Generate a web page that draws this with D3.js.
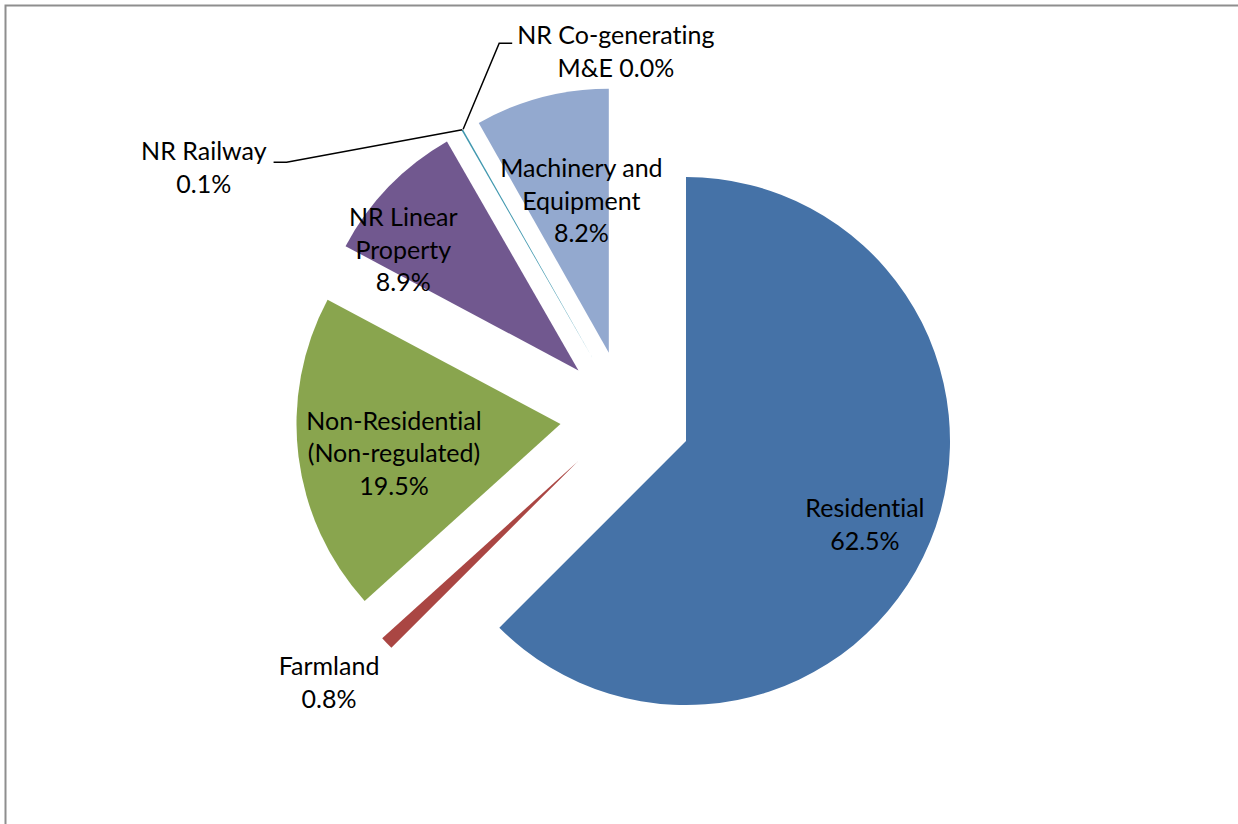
<!DOCTYPE html>
<html>
<head>
<meta charset="utf-8">
<script src="https://cdn.jsdelivr.net/npm/d3@7"></script>
<style>
  html, body { margin: 0; padding: 0; background: #fff; }
  svg text { font-family: Lato, "Open Sans", sans-serif; fill: #000; font-variant-ligatures: none; }
</style>
</head>
<body>
<svg id="chart" width="1238" height="824"></svg>
<script>
// data
const categories = [
  "Residential",
  "Farmland",
  "Non-Residential (Non-regulated)",
  "NR Linear Property",
  "NR Railway",
  "NR Co-generating M&E",
  "Machinery and Equipment"
];
const shares = [62.5, 0.8, 19.5, 8.9, 0.1, 0.0, 8.2];
const nameLines = [
  ["Residential"],
  ["Farmland"],
  ["Non-Residential", "(Non-regulated)"],
  ["NR Linear", "Property"],
  ["NR Railway"],
  ["NR Co-generating", "M&E"],
  ["Machinery and", "Equipment"]
];
const colors = ["#4572A7", "#AA4643", "#89A54E", "#71588F", "#4198AF", "#DB843D", "#93A9CF"];

// layout
const width = 1238, height = 824;
const cx = 625.5, cy = 416, radius = 264, explode = 65.5;
const fontSize = 25, lineH = 32.5, capHalf = 8.8;

// where Excel put each label (radius fraction along the slice + small nudge)
const labelLayout = {
  "Residential": { mode: "inside", k: 0.75, dx: -4, dy: 8 },
  "Farmland": { mode: "inside", k: 1.15, dx: -29, dy: 12.5 },
  "Non-Residential (Non-regulated)": { mode: "inside", k: 0.75, dx: 30, dy: 5 },
  "NR Linear Property": { mode: "inside", k: 0.75, dx: -33, dy: 17.5 },
  "NR Railway": { mode: "leader", dx: -258.4, dy: 38, side: "right", ly: -5.5 },
  "NR Co-generating M&E": { mode: "leader", dx: 152.7, dy: -77.6, side: "left", ly: -8.5, inline: true },
  "Machinery and Equipment": { mode: "inside", k: 0.75, dx: 23, dy: 40 }
};

const svg = d3.select("#chart");

// chart frame (only top and left edges fall inside the picture)
svg.append("rect")
  .attr("x", 5.5)
  .attr("y", 5.5)
  .attr("width", width + 20)
  .attr("height", height + 20)
  .attr("fill", "none")
  .attr("stroke", "#8e8e8e")
  .attr("stroke-width", 2);

const pie = d3.pie().sort(null).value((d) => d)
  .startAngle(0).endAngle(2 * Math.PI);
const arcs = pie(shares);

const arc = d3.arc().innerRadius(0).outerRadius(radius);

const direction = (d) => {
  const a = (d.startAngle + d.endAngle) / 2;
  return [Math.sin(a), -Math.cos(a)];
};

const apex = (d) => {
  const [ux, uy] = direction(d);
  return [cx + ux * explode, cy + uy * explode];
};

svg.selectAll(".slice")
  .data(arcs)
  .enter()
  .append("path")
  .attr("class", "slice")
  .attr("transform", (d) => {
    const [x, y] = apex(d);
    return `translate(${x},${y})`;
  })
  .attr("d", arc)
  .attr("fill", (d, i) => colors[i]);

const fmt = (v) => d3.format(".1f")(v) + "%";

arcs.forEach((d, i) => {
  const name = categories[i];
  const lay = labelLayout[name];
  const [ux, uy] = direction(d);
  const [ax, ay] = apex(d);
  let lx, ly;
  let outer = null;
  if (lay.mode === "inside") {
    lx = ax + ux * radius * lay.k + lay.dx;
    ly = ay + uy * radius * lay.k + lay.dy;
  } else {
    outer = [ax + ux * radius, ay + uy * radius];
    lx = outer[0] + lay.dx;
    ly = outer[1] + lay.dy;
  }

  let lines = nameLines[i].slice();
  if (lay.inline) {
    lines[lines.length - 1] = lines[lines.length - 1] + " " + fmt(shares[i]);
  } else {
    lines.push(fmt(shares[i]));
  }

  const text = svg.append("text")
    .attr("class", "slice-label")
    .attr("text-anchor", "middle")
    .style("font-size", fontSize + "px");
  lines.forEach((line, j) => {
    text.append("tspan")
      .attr("x", lx)
      .attr("y", ly + (j - (lines.length - 1) / 2) * lineH + capHalf)
      .text(line);
  });

  if (outer) {
    const w = text.select("tspan").node().getComputedTextLength();
    const sy = ly + lay.ly;
    let sx, ex;
    if (lay.side === "right") {
      sx = lx + w / 2 + 7;
      ex = sx + 13;
    } else {
      sx = lx - w / 2 - 5;
      ex = sx - 13;
    }
    svg.append("polyline")
      .attr("points", [[sx, sy], [ex, sy], outer].map((p) => p.join(",")).join(" "))
      .attr("fill", "none")
      .attr("stroke", "#000")
      .attr("stroke-width", 1.5);
  }
});
</script>
</body>
</html>
